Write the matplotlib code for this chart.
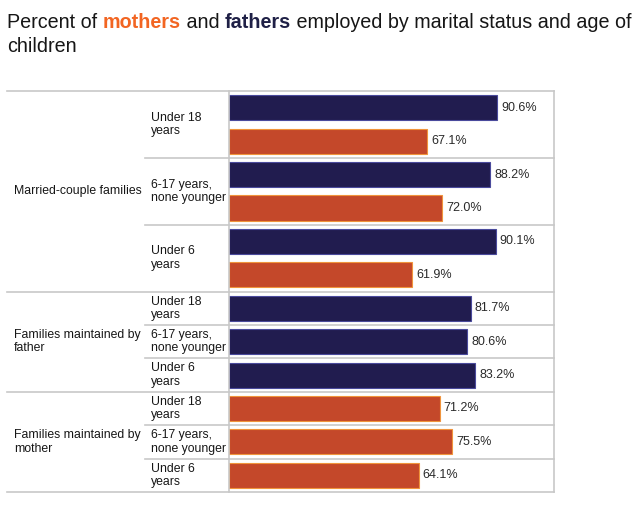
import matplotlib
matplotlib.use("Agg")
import matplotlib.pyplot as plt
from matplotlib.transforms import blended_transform_factory

plt.rcParams['font.family'] = ['Liberation Sans', 'DejaVu Sans']

# data
groups = ["Married-couple families", "Families maintained by\nfather", "Families maintained by\nmother"]
ages = ["Under 18\nyears", "6-17 years,\nnone younger", "Under 6\nyears"]
married_fathers = [90.6, 88.2, 90.1]
married_mothers = [67.1, 72.0, 61.9]
single_fathers = [81.7, 80.6, 83.2]
single_mothers = [71.2, 75.5, 64.1]

NAVY = "#211c4f"
NAVY_EDGE = "#4a4a9c"
ORANGE = "#c4482a"
ORANGE_EDGE = "#f0943c"
GRID = "#c8c8c8"
TXT = "#161616"

fig = plt.figure(figsize=(6.4, 5.32), dpi=100)
ax = fig.add_axes([0.3573, 0.0752, 0.5083, 0.7537])

# build bar list: (slot, value, colour)
bars = []
slot = 0
for f, m in zip(married_fathers, married_mothers):
    bars.append((slot + 0.5, f, "f"))
    bars.append((slot + 1.5, m, "m"))
    slot += 2
for f in single_fathers:
    bars.append((slot + 0.5, f, "f"))
    slot += 1
for m in single_mothers:
    bars.append((slot + 0.5, m, "m"))
    slot += 1

for y, v, who in bars:
    fc = NAVY if who == "f" else ORANGE
    ec = NAVY_EDGE if who == "f" else ORANGE_EDGE
    ax.barh(y, v, height=0.75, color=fc, edgecolor=ec, linewidth=0.8)
    ax.annotate(f"{v:.1f}%", (v, y), xytext=(3, 0), textcoords="offset points",
                va="center", ha="left", fontsize=9, color="#2a2a2a")

ax.set_xlim(0, 109.8)
ax.set_ylim(12, 0)
ax.set_xticks([])
ax.set_yticks([])
for s in ["top", "bottom"]:
    ax.spines[s].set_visible(False)
for s in ["left", "right"]:
    ax.spines[s].set_color(GRID)
    ax.spines[s].set_linewidth(1.2)

# table lines
tr = blended_transform_factory(fig.transFigure, ax.transData)
x_table = 7 / 640
x_sub = 145 / 640
x_end = 554 / 640
for y in [0, 6, 9, 12]:
    ax.plot([x_table, x_end], [y, y], color=GRID, lw=1.2, transform=tr, clip_on=False)
for y in [2, 4, 7, 8, 10, 11]:
    ax.plot([x_sub, x_end], [y, y], color=GRID, lw=1.2, transform=tr, clip_on=False)

# row labels
x_grp = 14 / 640
x_age = 151 / 640
group_centres = [3, 7.5, 10.5]
for g, yc in zip(groups, group_centres):
    ax.text(x_grp, yc, g, transform=tr, va="center", ha="left", fontsize=8.8,
            color=TXT, linespacing=1.15)
age_centres = [1, 3, 5, 6.5, 7.5, 8.5, 9.5, 10.5, 11.5]
for i, yc in enumerate(age_centres):
    ax.text(x_age, yc, ages[i % 3], transform=tr, va="center", ha="left", fontsize=8.8,
            color=TXT, linespacing=1.15)

# title with coloured words
TS = 14.2
t1 = fig.text(7 / 640, 1 - 27.5 / 532, "Percent of ", fontsize=TS, color=TXT, va="baseline")
t2 = ax.annotate("mothers", xy=(1, 0), xycoords=t1, va="bottom", ha="left",
                 fontsize=TS, color="#f26522", fontweight="bold")
t3 = ax.annotate(" and ", xy=(1, 0), xycoords=t2, va="bottom", ha="left",
                 fontsize=TS, color=TXT)
t4 = ax.annotate("fathers", xy=(1, 0), xycoords=t3, va="bottom", ha="left",
                 fontsize=TS, color="#1f2046", fontweight="bold")
t5 = ax.annotate(" employed by marital status and age of", xy=(1, 0), xycoords=t4,
                 va="bottom", ha="left", fontsize=TS, color=TXT)
fig.text(7 / 640, 1 - 51.7 / 532, "children", fontsize=TS, color=TXT, va="baseline")

fig.savefig("out.png", dpi=100)
